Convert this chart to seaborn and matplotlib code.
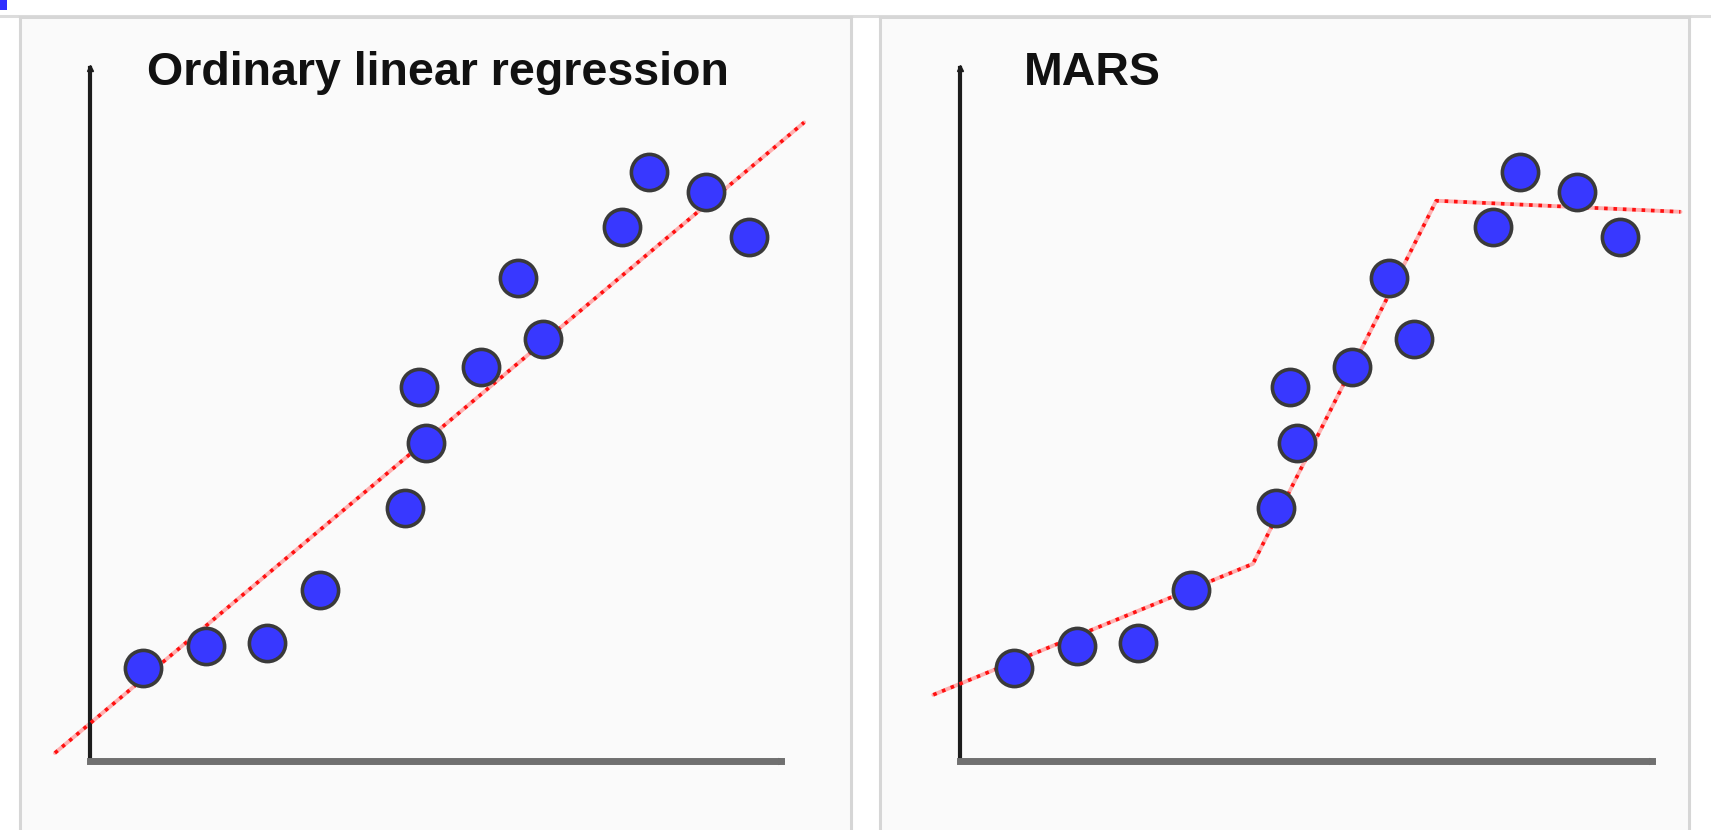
import numpy as np
import pandas as pd
import matplotlib
matplotlib.use("Agg")
import matplotlib.pyplot as plt
from matplotlib.patches import Rectangle
from matplotlib.lines import Line2D
import seaborn as sns

# data (axis units: 0..10 on both axes)
x_pts = [0.77, 1.69, 2.57, 3.33, 4.56, 4.86, 4.76, 5.66, 6.56, 6.20, 7.70, 8.09, 8.91, 9.53]
y_pts = [1.34, 1.66, 1.69, 2.46, 3.64, 4.59, 5.39, 5.68, 6.09, 6.97, 7.70, 8.50, 8.20, 7.56]

ols_x = [-0.50, 10.33]
ols_y = [0.11, 9.21]

mars_x = [-0.39, 4.23, 6.88, 10.41]
mars_y = [0.95, 2.84, 8.08, 7.92]

titles = ["Ordinary linear regression", "MARS"]

df = pd.DataFrame({"x": x_pts, "y": y_pts})
fits = [pd.DataFrame({"x": ols_x, "y": ols_y}), pd.DataFrame({"x": mars_x, "y": mars_y})]

sns.set_style("white")
plt.rcParams["font.family"] = ["Liberation Sans", "DejaVu Sans"]

W, H = 1711, 830
fig = plt.figure(figsize=(W / 100, H / 100), dpi=100)
fig.patch.set_facecolor("white")

# top rule + small blue corner mark
fig.add_artist(Line2D([0, 1], [1 - 16 / H, 1 - 16 / H], transform=fig.transFigure,
                      color="#dcdcdc", lw=2.2, zorder=-2))
fig.add_artist(Rectangle((0, 1 - 10 / H), 7 / W, 10 / H, transform=fig.transFigure,
                         facecolor="#3030ff", edgecolor="none", zorder=-2))

# panel boxes
for x0, x1 in [(20, 851), (880, 1689)]:
    fig.add_artist(Rectangle((x0 / W, -0.1), (x1 - x0) / W, 1.1 - 17 / H,
                             transform=fig.transFigure, facecolor="#fafafa",
                             edgecolor="#d6d6d6", lw=2.2, zorder=-1))

ax_left = [89.5, 960.3]
title_x = [0.083, 0.0915]

for i in range(2):
    ax = fig.add_axes([ax_left[i] / W, (830 - 760.6) / H, 691.8 / W, 692.9 / H])
    ax.set_facecolor("none")
    ax.set_xlim(0, 10)
    ax.set_ylim(0, 10)

    # fitted curve: faint pink band with red dots on top
    sns.lineplot(data=fits[i], x="x", y="y", ax=ax, sort=False, estimator=None,
                 color="#ffb0b0", lw=2.8, clip_on=False, zorder=2)
    sns.lineplot(data=fits[i], x="x", y="y", ax=ax, sort=False, estimator=None,
                 color="#ff1010", lw=2.6, linestyle=(0, (1, 1.6)), clip_on=False, zorder=3)

    sns.scatterplot(data=df, x="x", y="y", ax=ax, s=680, color="#3838ff",
                    edgecolor="#3a3a3a", linewidth=2.6, zorder=4, clip_on=False)

    for s in ["top", "right"]:
        ax.spines[s].set_visible(False)
    ax.spines["left"].set_color("#1c1c1c")
    ax.spines["left"].set_linewidth(3)
    ax.spines["bottom"].set_color("#707070")
    ax.spines["bottom"].set_linewidth(5)
    ax.set_xticks([])
    ax.set_yticks([])
    ax.set_xlabel("")
    ax.set_ylabel("")

    # small arrow tips
    ax.plot([0], [1], marker="^", ms=5, color="#1c1c1c", transform=ax.transAxes, clip_on=False)
    ax.plot([1], [0], marker=">", ms=5, color="#111111", transform=ax.transAxes, clip_on=False)

    ax.text(title_x[i], 0.975, titles[i], transform=ax.transAxes, ha="left", va="baseline",
            fontsize=33.5, fontweight="bold", color="#111111")

fig.savefig("out.png", dpi=100)
